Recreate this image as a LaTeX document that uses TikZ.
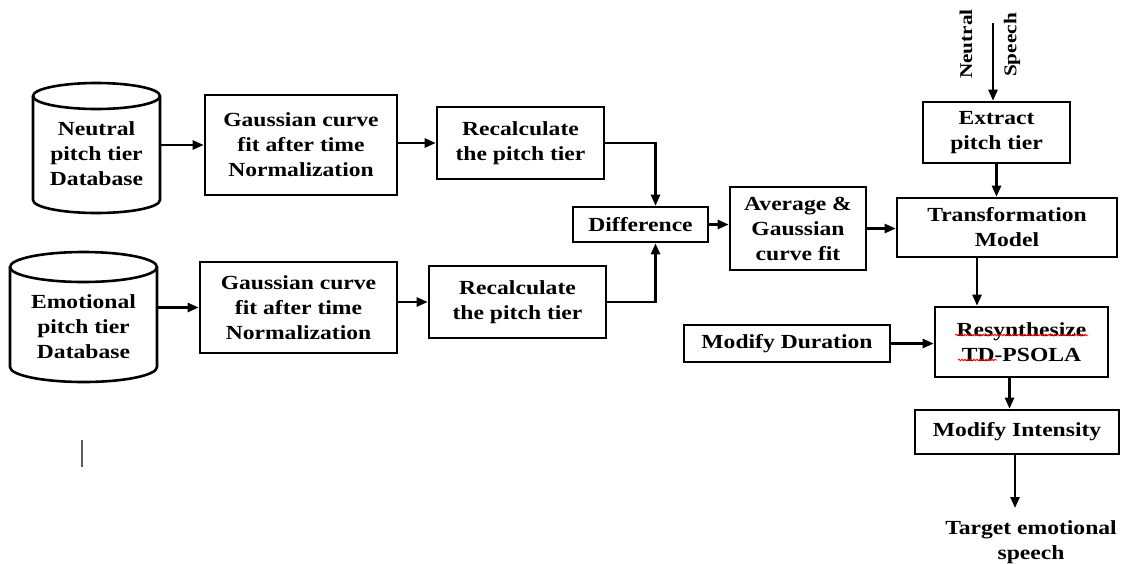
\documentclass[tikz,border=0pt]{standalone}
\usepackage{fontspec}
\setmainfont{Liberation Serif}[FakeStretch=1.18]
\usetikzlibrary{positioning, arrows.meta, decorations.pathmorphing}

\tikzset{
  blk/.style={draw, line width=2.6pt, align=center, inner sep=0pt, font=\bfseries\fontsize{20}{25}\selectfont},
  dbtxt/.style={align=center, inner sep=0pt, font=\bfseries\fontsize{20}{25}\selectfont},
  lbl/.style={align=center, inner sep=0pt, font=\bfseries\fontsize{18}{22}\selectfont},
  arr/.style={line width=2.4pt, -{Triangle[length=11pt, width=9pt]}},
  squig/.style={red, line width=0.8pt, decorate, decoration={snake, amplitude=0.8pt, segment length=3pt}},
}

\begin{document}
\begin{tikzpicture}[x=1pt, y=-1pt]
    \useasboundingbox (0,0) rectangle (1126,563);

    % Databases
    \draw[line width=2.6pt] (96.5,96) ellipse [x radius=63.5, y radius=13]; % Neutral top
    \draw[line width=2.6pt] (33,96) -- (33,200) arc [start angle=180, end angle=0, x radius=63.5, y radius=13] -- (160,96);
    \node[dbtxt, minimum width=127pt] (neutraldb) at (96.5,154) {Neutral\\pitch tier\\Database};

    \draw[line width=2.6pt] (83.5,267) ellipse [x radius=73.5, y radius=15]; % Emotional top
    \draw[line width=2.6pt] (10,267) -- (10,367) arc [start angle=180, end angle=0, x radius=73.5, y radius=15] -- (157,267);
    \node[dbtxt, minimum width=147pt] (emodb) at (83.5,327) {Emotional\\pitch tier\\Database};

    % Processing blocks
    \node[blk, minimum width=192pt, minimum height=100pt] (gauss1) at (301,145) {Gaussian curve\\fit after time\\Normalization};
    \node[blk, minimum width=197pt, minimum height=91pt] (gauss2) at (298.5,307.5) {Gaussian curve\\fit after time\\Normalization};
    \node[blk, minimum width=167pt, minimum height=72pt] (recalc1) at (520.5,143) {Recalculate\\the pitch tier};
    \node[blk, minimum width=177pt, minimum height=72pt] (recalc2) at (517.5,302) {Recalculate\\the pitch tier};
    \node[blk, minimum width=135pt, minimum height=35pt] (diff) at (640.5,224.5) {Difference};
    \node[blk, minimum width=136pt, minimum height=83pt] (avg) at (798,228.5) {Average \&\\Gaussian\\curve fit};
    \node[blk, minimum width=147pt, minimum height=61pt] (extract) at (996.5,132.5) {Extract\\pitch tier};
    \node[blk, minimum width=220pt, minimum height=59pt] (transf) at (1007,227.5) {Transformation\\Model};
    \node[blk, minimum width=173pt, minimum height=70pt] (resyn) at (1021.5,342) {Resynthesize\\TD-PSOLA};
    \node[blk, minimum width=206pt, minimum height=37pt] (moddur) at (787,343.5) {Modify Duration};
    \node[blk, minimum width=204pt, minimum height=44pt] (modint) at (1017,432) {Modify Intensity};

    % Input and output
    \coordinate (speechin) at (993,23);
    \node[lbl, rotate=90] (neutrallbl) at (966,44) {Neutral};
    \node[lbl, rotate=90] (speechlbl) at (1012,45) {Speech};
    \coordinate (targetin) at (1015,508);
    \node[dbtxt] (target) at (1031,542) {Target emotional\\speech};

    % Connectors
    \draw[arr] (neutraldb.east |- gauss1.west) -- (gauss1.west);
    \draw[arr] (emodb.east |- gauss2.west) -- (gauss2.west);
    \draw[arr] (gauss1.east |- recalc1.west) -- (recalc1.west);
    \draw[arr] (recalc2.west -| gauss2.east) -- (recalc2.west);
    \draw[arr] (recalc1.east) -| ([xshift=15pt]diff.north);
    \draw[arr] (recalc2.east) -| ([xshift=15pt]diff.south);
    \draw[arr] (diff.east) -- (avg.west |- diff.east);
    \draw[arr] (avg.east) -- (transf.west |- avg.east);
    \draw[arr] (speechin) -- (speechin |- extract.north);
    \draw[arr] (extract.south) -- (extract.south |- transf.north);
    \draw[arr] ([xshift=-30pt]transf.south) -- ([xshift=-30pt]transf.south |- resyn.north);
    \draw[arr] (moddur.east) -- (resyn.west |- moddur.east);
    \draw[arr] ([xshift=-12pt]resyn.south) -- ([xshift=-12pt]resyn.south |- modint.north);
    \draw[arr] (modint.south -| targetin) -- (targetin);

    % Spell check marks and stray cursor
    \draw[squig] (955,335) -- (1088,335);
    \draw[squig] (958,360) -- (997,360);
    \draw[gray!70!black, line width=1.5pt] (82,440) -- (82,467);
\end{tikzpicture}
\end{document}
